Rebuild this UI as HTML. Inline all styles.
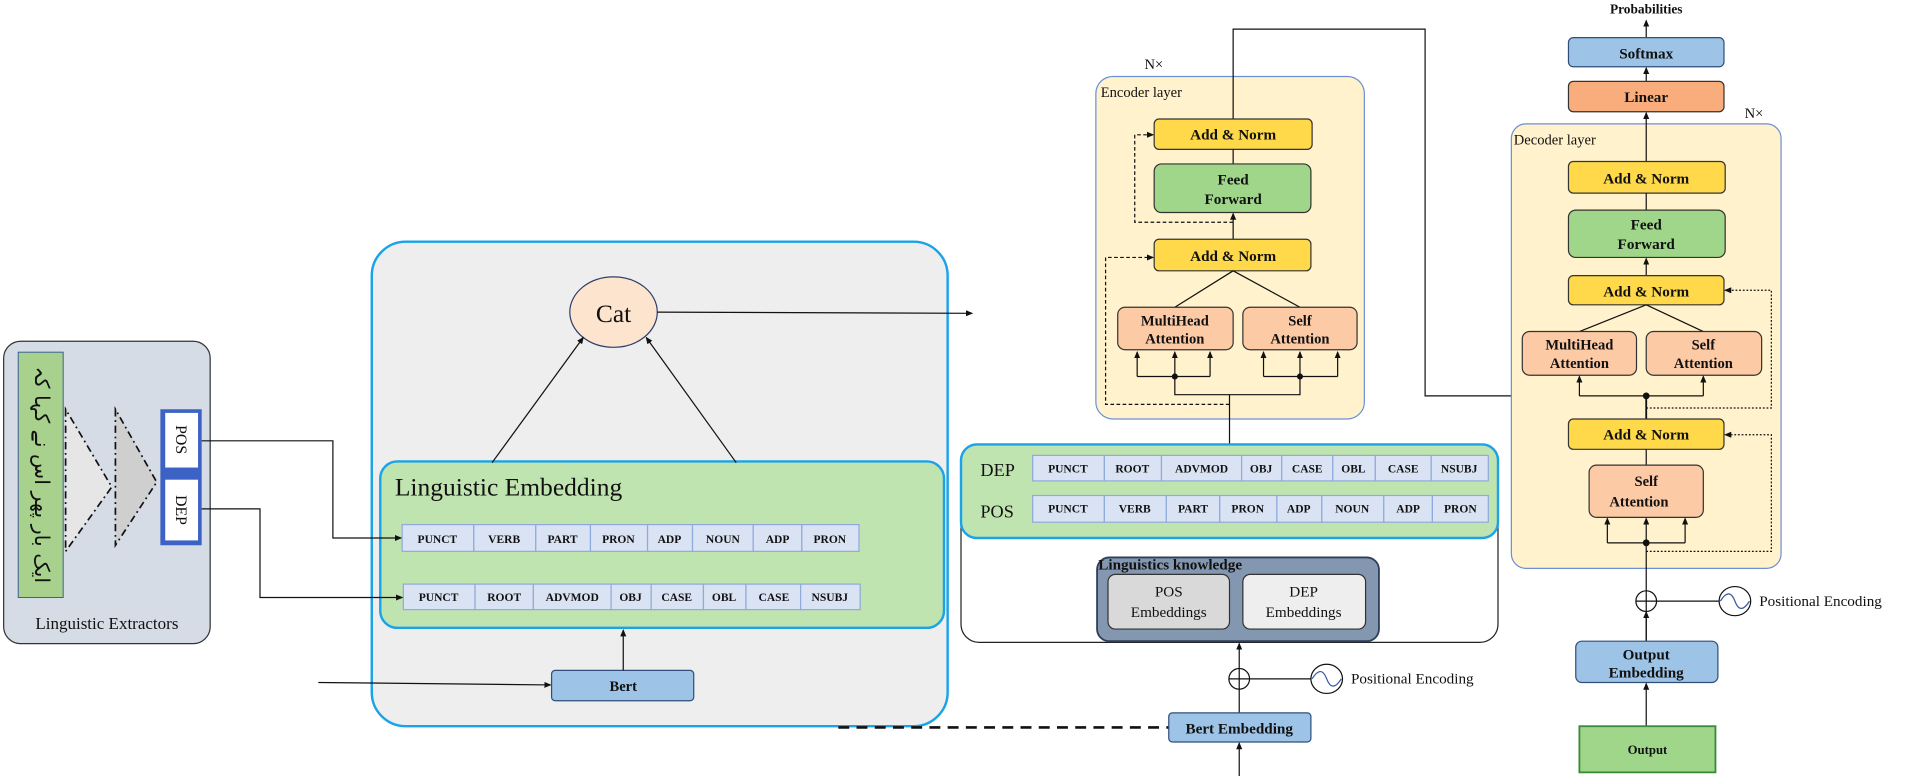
<!DOCTYPE html>
<html><head><meta charset="utf-8">
<style>
html,body{margin:0;padding:0;background:#fff;}
svg{display:block;}
text{font-family:"Liberation Serif","Noto Serif CJK SC",serif;fill:#111;}
.b{font-weight:bold;}
</style></head>
<body>
<svg width="1905" height="776" viewBox="0 0 1568 639" preserveAspectRatio="none" xmlns="http://www.w3.org/2000/svg">
<defs>
<marker id="a" markerWidth="6" markerHeight="6" refX="5" refY="3" orient="auto" markerUnits="userSpaceOnUse">
<path d="M0,0.5 L6,3 L0,5.5 Z" fill="#111"/></marker>
</defs>

<!-- Linguistic Extractors -->
<rect x="3" y="281" width="170" height="249" rx="14" fill="#d6dce5" stroke="#333" stroke-width="1"/>
<rect x="15" y="290" width="37" height="202" fill="#a9d18e" stroke="#3a5a9a" stroke-width="0.8"/>
<text transform="translate(29,391) rotate(90)" text-anchor="middle" font-size="17" style="font-family:'DejaVu Sans',sans-serif">ایک بار پھر اس نے کہا کہ</text>
<polygon points="54,337 54,454 92,401" fill="#e6e6e6" stroke="#111" stroke-width="1.4" stroke-dasharray="6,3,1.5,3"/>
<polygon points="95,337 95,449 129,397" fill="#cfcfcf" stroke="#111" stroke-width="1.4" stroke-dasharray="6,3,1.5,3"/>
<rect x="132" y="337" width="34" height="112" fill="#3b62c4"/>
<rect x="136" y="340" width="27" height="45" fill="#fff"/>
<rect x="136" y="395" width="27" height="50" fill="#fff"/>
<text transform="translate(145,362) rotate(90)" text-anchor="middle" font-size="13">POS</text>
<text transform="translate(145,420) rotate(90)" text-anchor="middle" font-size="13">DEP</text>
<text x="88" y="518" text-anchor="middle" font-size="14">Linguistic Extractors</text>

<!-- Gray box -->
<rect x="306" y="199" width="474" height="399" rx="28" fill="#eeeeee" stroke="#1aa3e8" stroke-width="2"/>
<ellipse cx="505" cy="257" rx="36" ry="29" fill="#fde4cf" stroke="#2f3f6a" stroke-width="1"/>
<text x="505" y="265" text-anchor="middle" font-size="21">Cat</text>
<line x1="541" y1="257" x2="800" y2="258" stroke="#111" stroke-width="1" marker-end="url(#a)"/>

<rect x="313" y="380" width="464" height="137" rx="14" fill="#c0e4b0" stroke="#1aa3e8" stroke-width="2"/>
<text x="325" y="408" font-size="21">Linguistic Embedding</text>
<line x1="405" y1="381" x2="480" y2="278" stroke="#111" stroke-width="1" marker-end="url(#a)"/>
<line x1="606" y1="381" x2="532" y2="278" stroke="#111" stroke-width="1" marker-end="url(#a)"/>

<g stroke="#8faadc" stroke-width="1" fill="#dae3f3">
<rect x="331" y="432" width="59" height="22"/><rect x="390" y="432" width="51" height="22"/><rect x="441" y="432" width="45" height="22"/><rect x="486" y="432" width="47" height="22"/><rect x="533" y="432" width="37" height="22"/><rect x="570" y="432" width="50" height="22"/><rect x="620" y="432" width="40" height="22"/><rect x="660" y="432" width="47" height="22"/>
<rect x="332" y="481" width="59" height="21"/><rect x="391" y="481" width="48" height="21"/><rect x="439" y="481" width="64" height="21"/><rect x="503" y="481" width="33" height="21"/><rect x="536" y="481" width="43" height="21"/><rect x="579" y="481" width="35" height="21"/><rect x="614" y="481" width="45" height="21"/><rect x="659" y="481" width="49" height="21"/>
</g>
<g font-size="9.5" text-anchor="middle" style="font-weight:bold">
<text x="360" y="447">PUNCT</text><text x="415" y="447">VERB</text><text x="463" y="447">PART</text><text x="509" y="447">PRON</text><text x="551" y="447">ADP</text><text x="595" y="447">NOUN</text><text x="640" y="447">ADP</text><text x="683" y="447">PRON</text>
<text x="361" y="495">PUNCT</text><text x="415" y="495">ROOT</text><text x="471" y="495">ADVMOD</text><text x="519" y="495">OBJ</text><text x="557" y="495">CASE</text><text x="596" y="495">OBL</text><text x="637" y="495">CASE</text><text x="683" y="495">NSUBJ</text>
</g>

<polyline points="166,363 274,363 274,443 330,443" fill="none" stroke="#111" stroke-width="1" marker-end="url(#a)"/>
<polyline points="166,419 214,419 214,492 331,492" fill="none" stroke="#111" stroke-width="1" marker-end="url(#a)"/>

<rect x="454" y="552" width="117" height="25" rx="3" fill="#9dc3e6" stroke="#2f4f7a" stroke-width="1"/>
<text x="513" y="569" text-anchor="middle" font-size="12" class="b">Bert</text>
<line x1="513" y1="552" x2="513" y2="519" stroke="#111" stroke-width="1" marker-end="url(#a)"/>
<line x1="262" y1="562" x2="453" y2="564" stroke="#111" stroke-width="1" marker-end="url(#a)"/>
<line x1="690" y1="599" x2="962" y2="599" stroke="#111" stroke-width="2.2" stroke-dasharray="9,6"/>

<!-- Encoder -->
<text x="942" y="57" font-size="12">N×</text>
<rect x="902" y="63" width="221" height="282" rx="14" fill="#fff2cc" stroke="#6d8fd6" stroke-width="1"/>
<text x="906" y="80" font-size="12">Encoder layer</text>
<polyline points="1015,98 1015,24 1173,24 1173,326 1355,326" fill="none" stroke="#111" stroke-width="1"/>
<rect x="950" y="98" width="130" height="25" rx="4" fill="#ffd94a" stroke="#333" stroke-width="1"/>
<text x="1015" y="115" text-anchor="middle" font-size="12.5" class="b">Add &amp; Norm</text>
<line x1="1015" y1="135" x2="1015" y2="123" stroke="#111" stroke-width="1"/>
<rect x="950" y="135" width="129" height="40" rx="6" fill="#9fd68a" stroke="#333" stroke-width="1"/>
<text x="1015" y="152" text-anchor="middle" font-size="12.5" class="b">Feed</text>
<text x="1015" y="168" text-anchor="middle" font-size="12.5" class="b">Forward</text>
<line x1="1015" y1="197" x2="1015" y2="176" stroke="#111" stroke-width="1" marker-end="url(#a)"/>
<rect x="950" y="197" width="129" height="26" rx="4" fill="#ffd94a" stroke="#333" stroke-width="1"/>
<text x="1015" y="215" text-anchor="middle" font-size="12.5" class="b">Add &amp; Norm</text>
<polyline points="1015,183 934,183 934,111 949,111" fill="none" stroke="#111" stroke-width="1" stroke-dasharray="3,2" marker-end="url(#a)"/>
<polyline points="1012,333 910,333 910,212 949,212" fill="none" stroke="#111" stroke-width="1" stroke-dasharray="3,2" marker-end="url(#a)"/>
<line x1="1015" y1="223" x2="967" y2="253" stroke="#111" stroke-width="1"/>
<line x1="1015" y1="223" x2="1070" y2="253" stroke="#111" stroke-width="1"/>
<rect x="920" y="253" width="95" height="35" rx="6" fill="#fdcaa6" stroke="#333" stroke-width="1"/>
<text x="967" y="268" text-anchor="middle" font-size="12" class="b">MultiHead</text>
<text x="967" y="283" text-anchor="middle" font-size="12" class="b">Attention</text>
<rect x="1023" y="253" width="94" height="35" rx="6" fill="#fdcaa6" stroke="#333" stroke-width="1"/>
<text x="1070" y="268" text-anchor="middle" font-size="12" class="b">Self</text>
<text x="1070" y="283" text-anchor="middle" font-size="12" class="b">Attention</text>
<g stroke="#111" stroke-width="1" fill="none">
<polyline points="936,310 996,310"/><polyline points="1040,310 1101,310"/>
<line x1="936" y1="310" x2="936" y2="290" marker-end="url(#a)"/><line x1="967" y1="310" x2="967" y2="290" marker-end="url(#a)"/><line x1="996" y1="310" x2="996" y2="290" marker-end="url(#a)"/>
<line x1="1040" y1="310" x2="1040" y2="290" marker-end="url(#a)"/><line x1="1070" y1="310" x2="1070" y2="290" marker-end="url(#a)"/><line x1="1101" y1="310" x2="1101" y2="290" marker-end="url(#a)"/>
<polyline points="967,310 967,325 1070,325 1070,310"/>
<line x1="1012" y1="325" x2="1012" y2="366"/>
</g>
<circle cx="967" cy="310" r="2.5" fill="#111"/><circle cx="1070" cy="310" r="2.5" fill="#111"/>

<!-- DEP/POS box -->
<rect x="791" y="366" width="442" height="163" rx="15" fill="#fff" stroke="#222" stroke-width="1"/>
<rect x="791" y="366" width="442" height="77" rx="13" fill="#c0e4b0" stroke="#1aa3e8" stroke-width="2"/>
<text x="807" y="392" font-size="15">DEP</text>
<text x="807" y="426" font-size="15">POS</text>
<g stroke="#8faadc" stroke-width="1" fill="#dae3f3">
<rect x="850" y="375" width="59" height="21"/><rect x="909" y="375" width="47" height="21"/><rect x="956" y="375" width="66" height="21"/><rect x="1022" y="375" width="33" height="21"/><rect x="1055" y="375" width="42" height="21"/><rect x="1097" y="375" width="35" height="21"/><rect x="1132" y="375" width="46" height="21"/><rect x="1178" y="375" width="47" height="21"/>
<rect x="850" y="408" width="59" height="22"/><rect x="909" y="408" width="51" height="22"/><rect x="960" y="408" width="44" height="22"/><rect x="1004" y="408" width="47" height="22"/><rect x="1051" y="408" width="37" height="22"/><rect x="1088" y="408" width="51" height="22"/><rect x="1139" y="408" width="40" height="22"/><rect x="1179" y="408" width="46" height="22"/>
</g>
<g font-size="9.5" text-anchor="middle" style="font-weight:bold">
<text x="879" y="389">PUNCT</text><text x="932" y="389">ROOT</text><text x="989" y="389">ADVMOD</text><text x="1038" y="389">OBJ</text><text x="1076" y="389">CASE</text><text x="1114" y="389">OBL</text><text x="1155" y="389">CASE</text><text x="1201" y="389">NSUBJ</text>
<text x="879" y="422">PUNCT</text><text x="934" y="422">VERB</text><text x="982" y="422">PART</text><text x="1027" y="422">PRON</text><text x="1069" y="422">ADP</text><text x="1113" y="422">NOUN</text><text x="1159" y="422">ADP</text><text x="1202" y="422">PRON</text>
</g>
<rect x="903" y="459" width="232" height="69" rx="10" fill="#8497b0" stroke="#2e3f5a" stroke-width="1.5"/>
<text x="904" y="469" font-size="12.5" class="b">Linguistics knowledge</text>
<rect x="912" y="473" width="100" height="45" rx="6" fill="#d9d9d9" stroke="#333" stroke-width="1"/>
<text x="962" y="491" text-anchor="middle" font-size="12.5">POS</text>
<text x="962" y="508" text-anchor="middle" font-size="12.5">Embeddings</text>
<rect x="1023" y="473" width="101" height="45" rx="6" fill="#eeeeee" stroke="#333" stroke-width="1"/>
<text x="1073" y="491" text-anchor="middle" font-size="12.5">DEP</text>
<text x="1073" y="508" text-anchor="middle" font-size="12.5">Embeddings</text>

<line x1="1020" y1="587" x2="1020" y2="530" stroke="#111" stroke-width="1" marker-end="url(#a)"/>
<circle cx="1020" cy="559" r="8.5" fill="none" stroke="#111" stroke-width="1"/>
<line x1="1011.5" y1="559" x2="1079" y2="559" stroke="#111" stroke-width="1"/>
<ellipse cx="1092" cy="559" rx="13" ry="12" fill="#fff" stroke="#111" stroke-width="1"/>
<path d="M1080,559 C1085,551 1089,551 1092,559 C1095,567 1099,567 1104,559" fill="none" stroke="#3a5a9a" stroke-width="1"/>
<text x="1112" y="563" font-size="12.5">Positional Encoding</text>
<rect x="962" y="587" width="117" height="24" rx="3" fill="#9dc3e6" stroke="#2f4f7a" stroke-width="1"/>
<text x="1020" y="604" text-anchor="middle" font-size="12.5" class="b">Bert Embedding</text>
<line x1="1020" y1="639" x2="1020" y2="612" stroke="#111" stroke-width="1" marker-end="url(#a)"/>

<!-- Decoder -->
<text x="1355" y="11" text-anchor="middle" font-size="11" class="b">Probabilities</text>
<line x1="1355" y1="31" x2="1355" y2="17" stroke="#111" stroke-width="1" marker-end="url(#a)"/>
<rect x="1291" y="31" width="128" height="24" rx="4" fill="#9dc3e6" stroke="#2f4f7a" stroke-width="1"/>
<text x="1355" y="48" text-anchor="middle" font-size="12.5" class="b">Softmax</text>
<line x1="1355" y1="67" x2="1355" y2="56" stroke="#111" stroke-width="1" marker-end="url(#a)"/>
<rect x="1291" y="67" width="128" height="25" rx="4" fill="#f9ad7c" stroke="#333" stroke-width="1"/>
<text x="1355" y="84" text-anchor="middle" font-size="12.5" class="b">Linear</text>
<text x="1436" y="97" font-size="12">N×</text>
<rect x="1244" y="102" width="222" height="366" rx="12" fill="#fff2cc" stroke="#6d8fd6" stroke-width="1"/>
<text x="1246" y="119" font-size="12">Decoder layer</text>
<line x1="1355" y1="133" x2="1355" y2="93" stroke="#111" stroke-width="1" marker-end="url(#a)"/>
<rect x="1291" y="133" width="129" height="26" rx="4" fill="#ffd94a" stroke="#333" stroke-width="1"/>
<text x="1355" y="151" text-anchor="middle" font-size="12.5" class="b">Add &amp; Norm</text>
<line x1="1355" y1="159" x2="1355" y2="173" stroke="#111" stroke-width="1"/>
<rect x="1291" y="173" width="129" height="39" rx="6" fill="#9fd68a" stroke="#333" stroke-width="1"/>
<text x="1355" y="189" text-anchor="middle" font-size="12.5" class="b">Feed</text>
<text x="1355" y="205" text-anchor="middle" font-size="12.5" class="b">Forward</text>
<line x1="1355" y1="227" x2="1355" y2="213" stroke="#111" stroke-width="1" marker-end="url(#a)"/>
<rect x="1291" y="227" width="128" height="24" rx="4" fill="#ffd94a" stroke="#333" stroke-width="1"/>
<text x="1355" y="244" text-anchor="middle" font-size="12.5" class="b">Add &amp; Norm</text>
<line x1="1355" y1="251" x2="1300" y2="273" stroke="#111" stroke-width="1"/>
<line x1="1355" y1="251" x2="1402" y2="273" stroke="#111" stroke-width="1"/>
<rect x="1253" y="273" width="94" height="36" rx="6" fill="#fdcaa6" stroke="#333" stroke-width="1"/>
<text x="1300" y="288" text-anchor="middle" font-size="12" class="b">MultiHead</text>
<text x="1300" y="303" text-anchor="middle" font-size="12" class="b">Attention</text>
<rect x="1355" y="273" width="95" height="36" rx="6" fill="#fdcaa6" stroke="#333" stroke-width="1"/>
<text x="1402" y="288" text-anchor="middle" font-size="12" class="b">Self</text>
<text x="1402" y="303" text-anchor="middle" font-size="12" class="b">Attention</text>
<g stroke="#111" stroke-width="1" fill="none">
<line x1="1300" y1="326" x2="1402" y2="326"/>
<line x1="1300" y1="326" x2="1300" y2="310" marker-end="url(#a)"/>
<line x1="1402" y1="326" x2="1402" y2="310" marker-end="url(#a)"/>
<line x1="1355" y1="326" x2="1355" y2="345" stroke-width="1.5"/>
</g>
<circle cx="1355" cy="326" r="2.8" fill="#111"/>
<polyline points="1355,336 1458,336 1458,239 1420,239" fill="none" stroke="#111" stroke-width="1" stroke-dasharray="1.5,1.5" marker-end="url(#a)"/>
<rect x="1291" y="345" width="128" height="25" rx="4" fill="#ffd94a" stroke="#333" stroke-width="1"/>
<text x="1355" y="362" text-anchor="middle" font-size="12.5" class="b">Add &amp; Norm</text>
<line x1="1355" y1="370" x2="1355" y2="383" stroke="#111" stroke-width="1"/>
<rect x="1308" y="383" width="94" height="43" rx="6" fill="#fdcaa6" stroke="#333" stroke-width="1"/>
<text x="1355" y="400" text-anchor="middle" font-size="12" class="b">Self</text>
<text x="1349" y="417" text-anchor="middle" font-size="12" class="b">Attention</text>
<g stroke="#111" stroke-width="1" fill="none">
<line x1="1323" y1="447" x2="1387" y2="447"/>
<line x1="1323" y1="447" x2="1323" y2="427" marker-end="url(#a)"/>
<line x1="1355" y1="447" x2="1355" y2="427" marker-end="url(#a)"/>
<line x1="1387" y1="447" x2="1387" y2="427" marker-end="url(#a)"/>
<line x1="1355" y1="528" x2="1355" y2="447"/>
</g>
<circle cx="1355" cy="447" r="2.8" fill="#111"/>
<polyline points="1355,454 1458,454 1458,358 1420,358" fill="none" stroke="#111" stroke-width="1" stroke-dasharray="1.5,1.5" marker-end="url(#a)"/>
<circle cx="1355" cy="495" r="8.5" fill="#fff" stroke="#111" stroke-width="1"/>
<line x1="1355" y1="486.5" x2="1355" y2="503.5" stroke="#111" stroke-width="1"/>
<line x1="1346.5" y1="495" x2="1415" y2="495" stroke="#111" stroke-width="1"/>
<ellipse cx="1428" cy="495" rx="13" ry="12" fill="#fff" stroke="#111" stroke-width="1"/>
<path d="M1416,495 C1421,487 1425,487 1428,495 C1431,503 1435,503 1440,495" fill="none" stroke="#3a5a9a" stroke-width="1"/>
<text x="1448" y="499" font-size="12.5">Positional Encoding</text>
<line x1="1355" y1="528" x2="1355" y2="504" stroke="#111" stroke-width="1" marker-end="url(#a)"/>
<rect x="1297" y="528" width="117" height="34" rx="5" fill="#9dc3e6" stroke="#2f4f7a" stroke-width="1"/>
<text x="1355" y="543" text-anchor="middle" font-size="12.5" class="b">Output</text>
<text x="1355" y="558" text-anchor="middle" font-size="12.5" class="b">Embedding</text>
<line x1="1355" y1="598" x2="1355" y2="563" stroke="#111" stroke-width="1" marker-end="url(#a)"/>
<rect x="1300" y="598" width="112" height="38" fill="#9fd68a" stroke="#3b8a3b" stroke-width="1.5"/>
<text x="1356" y="621" text-anchor="middle" font-size="10.5" class="b">Output</text>
</svg>
</body></html>
